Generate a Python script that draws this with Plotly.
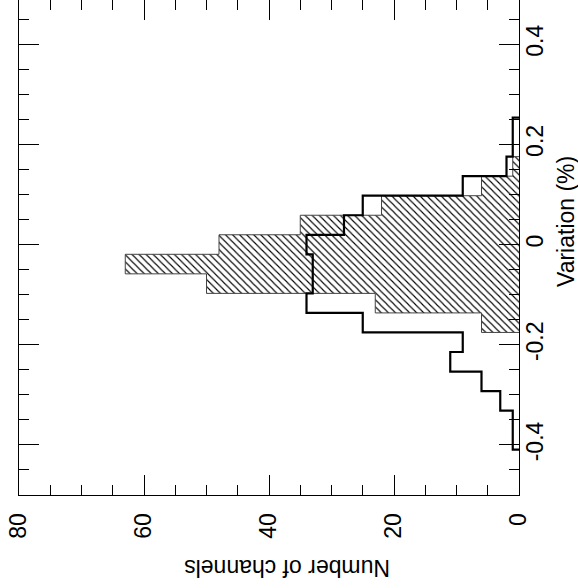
import plotly.graph_objects as go

# ---- data ----
BIN_WIDTH = 0.039
bin_index = list(range(-10, 7))  # bin centres = index * BIN_WIDTH (Variation %)
all_channels = [1, 1, 3, 6, 11, 9, 25, 34, 33, 33, 34, 28, 25, 9, 2, 1, 1]
selected_channels = [0, 0, 0, 0, 0, 0, 6, 23, 50, 63, 48, 35, 22, 6, 1, 0, 0]

x_tick_vals = [0, 20, 40, 60, 80]
x_tick_text = ["0", "20", "40", "60", "80"]
y_tick_vals = [-0.4, -0.2, 0, 0.2, 0.4]
y_tick_text = ["-0.4", "-0.2", "0", "0.2", "0.4"]

FONT = "Liberation Sans, Arial, Helvetica, sans-serif"


def step_outline(counts, trim=False):
    pairs = list(zip(bin_index, counts))
    if trim:
        nz = [i for i, (_, c) in enumerate(pairs) if c > 0]
        pairs = pairs[nz[0]:nz[-1] + 1]
    xs, ys = [], []
    first_lo = pairs[0][0] * BIN_WIDTH - BIN_WIDTH / 2
    xs.append(0); ys.append(first_lo)
    for j, c in pairs:
        lo = j * BIN_WIDTH - BIN_WIDTH / 2
        hi = j * BIN_WIDTH + BIN_WIDTH / 2
        xs += [c, c]; ys += [lo, hi]
    last_hi = pairs[-1][0] * BIN_WIDTH + BIN_WIDTH / 2
    xs.append(0); ys.append(last_hi)
    return xs, ys


fig = go.Figure()

hx, hy = step_outline(selected_channels, trim=True)
fig.add_trace(go.Scatter(
    x=hx, y=hy, mode="lines", fill="toself",
    fillcolor="white",
    fillpattern=dict(shape="\\", size=5, solidity=0.22, fgcolor="black", bgcolor="white", fillmode="replace"),
    line=dict(color="#444444", width=1),
    hoverinfo="skip", showlegend=False,
))

bx, by = step_outline(all_channels)
fig.add_trace(go.Scatter(
    x=bx, y=by, mode="lines",
    line=dict(color="black", width=2.2),
    hoverinfo="skip", showlegend=False,
))

# invisible trace to activate the top tick axis
fig.add_trace(go.Scatter(x=[0], y=[0], xaxis="x2", mode="markers",
                         marker=dict(opacity=0), hoverinfo="skip", showlegend=False))

tickfont = dict(family=FONT, size=23, color="black")

fig.update_layout(
    width=578, height=588,
    margin=dict(l=19, r=59, t=0, b=93),
    paper_bgcolor="white", plot_bgcolor="white",
    showlegend=False,
    xaxis=dict(
        range=[80, 0], showgrid=False, zeroline=False,
        showline=True, linecolor="black", linewidth=1, mirror=False,
        ticks="inside", ticklen=20, tickwidth=1, tickcolor="black",
        tickmode="array", tickvals=x_tick_vals, ticktext=x_tick_text,
        minor=dict(ticks="inside", ticklen=10, tickwidth=1, tickcolor="black",
                   dtick=5, tick0=0, showgrid=False),
        tickangle=-90, tickfont=tickfont, ticklabelstandoff=8,
    ),
    xaxis2=dict(
        overlaying="x", matches="x", side="top", anchor="y",
        range=[80, 0], showgrid=False, zeroline=False, showline=False,
        ticks="inside", ticklen=20, tickwidth=1, tickcolor="black",
        tickmode="array", tickvals=x_tick_vals, showticklabels=False,
        minor=dict(ticks="inside", ticklen=10, tickwidth=1, tickcolor="black",
                   dtick=5, tick0=0, showgrid=False),
    ),
    yaxis=dict(
        range=[-0.5, 0.4882], side="right", showgrid=False, zeroline=False,
        showline=True, linecolor="black", linewidth=1, mirror="ticks",
        ticks="inside", ticklen=20, tickwidth=1, tickcolor="black",
        tickmode="array", tickvals=y_tick_vals, ticktext=y_tick_text,
        minor=dict(ticks="inside", ticklen=10, tickwidth=1, tickcolor="black",
                   dtick=0.05, tick0=0, showgrid=False),
        tickangle=-90, tickfont=tickfont, ticklabelstandoff=-5,
    ),
    annotations=[
        dict(text="Number of channels", textangle=180, showarrow=False,
             xref="paper", yref="paper", x=(287 - 19) / 500, y=(495 - 568) / 495,
             xanchor="center", yanchor="middle", font=dict(family=FONT, size=23, color="black")),
        dict(text="Variation (%)", textangle=-90, showarrow=False,
             xref="paper", yref="paper", x=(566 - 19) / 500, y=(495 - 222) / 495,
             xanchor="center", yanchor="middle", font=dict(family=FONT, size=23, color="black")),
    ],
)

fig.write_html("out.html")
